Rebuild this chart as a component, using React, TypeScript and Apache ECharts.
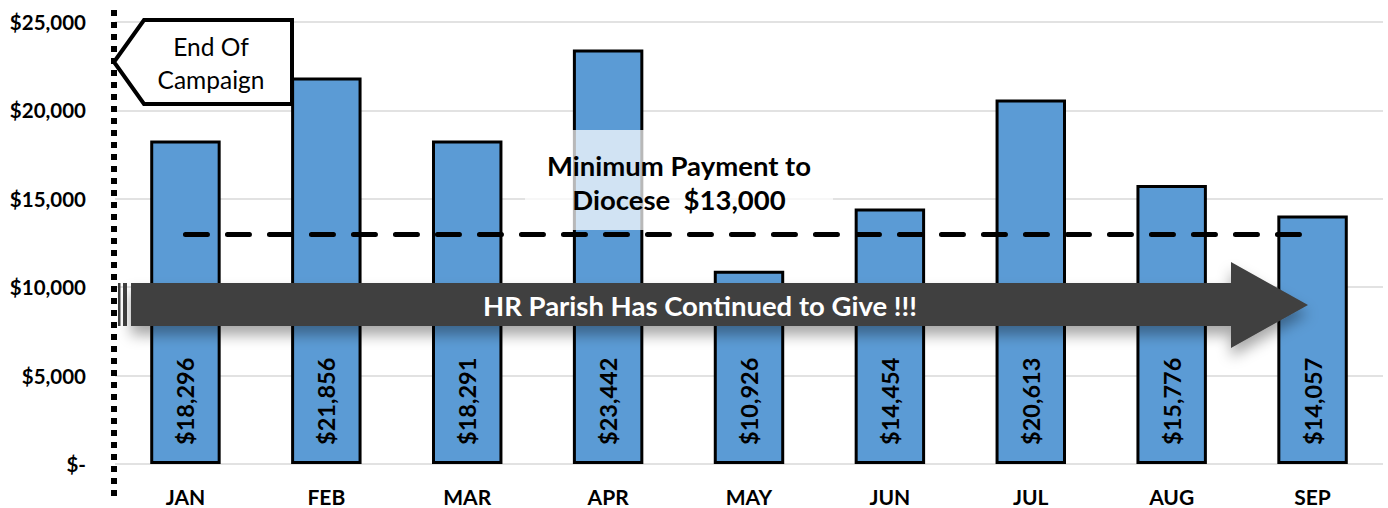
import React, { useEffect, useRef } from "react";
import * as echarts from "echarts";

const months = ["JAN", "FEB", "MAR", "APR", "MAY", "JUN", "JUL", "AUG", "SEP"];
const giving = [18296, 21856, 18291, 23442, 10926, 14454, 20613, 15776, 14057];
const minimumPayment = 13000;
const yTicks = { min: 0, max: 25000, interval: 5000 };
const minimumText = "Minimum Payment to\nDiocese  $13,000";
const arrowText = "HR Parish Has Continued to Give !!!";
const calloutText = "End Of\nCampaign";

const FONT = "Lato, 'Noto Sans', sans-serif";

function money(v: number): string {
  if (v === 0) return "$-";
  return "$" + v.toLocaleString("en-US");
}

export default function App() {
  const ref = useRef<HTMLDivElement>(null);
  useEffect(() => {
    document.body.style.margin = "0";
    const chart = echarts.init(ref.current!, null, { renderer: "svg" });
    chart.setOption({
      animation: false,
      backgroundColor: "#ffffff",
      grid: { left: 115, right: 5, top: 22, bottom: 44, containLabel: false },
      xAxis: {
        type: "category",
        data: months,
        axisLine: { show: false },
        axisTick: { show: false },
        axisLabel: {
          margin: 22,
          fontFamily: FONT,
          fontWeight: "bold",
          fontSize: 21,
          color: "#000",
        },
      },
      yAxis: {
        type: "value",
        min: yTicks.min,
        max: yTicks.max,
        interval: yTicks.interval,
        axisLine: { show: false },
        axisTick: { show: false },
        splitLine: { lineStyle: { color: "#D9D9D9", width: 1.5 } },
        axisLabel: {
          margin: 29,
          formatter: (v: number) => money(v),
          fontFamily: FONT,
          fontWeight: "bold",
          fontSize: 20.5,
          color: "#000",
        },
      },
      series: [
        {
          type: "bar",
          data: giving,
          barWidth: "50%",
          itemStyle: { color: "#5B9BD5", borderColor: "#000", borderWidth: 3 },
          label: {
            show: true,
            position: "insideBottom",
            rotate: 90,
            align: "left",
            verticalAlign: "middle",
            distance: 19,
            formatter: (p: any) => money(p.value),
            fontFamily: FONT,
            fontWeight: "bold",
            fontSize: 23.5,
            color: "#000",
          },
          markLine: {
            silent: true,
            symbol: "none",
            z: 5,
            label: { show: false },
            lineStyle: { color: "#000", width: 5, type: [22, 20], cap: "round" },
            data: [
              [
                { coord: [months[0], minimumPayment] },
                { coord: [months[months.length - 1], minimumPayment] },
              ],
            ],
          },
        },
      ],
      graphic: [
        {
          type: "line",
          z: 100,
          shape: { x1: 114, y1: 10, x2: 114, y2: 502 },
          style: { stroke: "#000", lineWidth: 6, lineDash: [6, 6] },
        },
        {
          type: "polygon",
          z: 101,
          shape: {
            points: [
              [114, 62],
              [144, 20],
              [292, 20],
              [292, 104],
              [144, 104],
            ],
          },
          style: { fill: "#fff", stroke: "#000", lineWidth: 4, lineJoin: "miter" },
        },
        {
          type: "text",
          z: 102,
          x: 211,
          y: 63,
          style: {
            text: calloutText,
            fontFamily: FONT,
            fontSize: 24.5,
            lineHeight: 33,
            fill: "#000",
            align: "center",
            verticalAlign: "middle",
          },
        },
        {
          type: "rect",
          z: 100,
          shape: { x: 525, y: 130, width: 308, height: 100 },
          style: { fill: "rgba(255,255,255,0.72)" },
        },
        {
          type: "text",
          z: 101,
          x: 679,
          y: 182,
          style: {
            text: minimumText,
            fontFamily: FONT,
            fontWeight: "bold",
            fontSize: 27.5,
            lineHeight: 34,
            fill: "#000",
            align: "center",
            verticalAlign: "middle",
          },
        },
        {
          type: "rect",
          z: 100,
          shape: { x: 118, y: 283, width: 2.5, height: 43 },
          style: { fill: "#404040" },
        },
        {
          type: "rect",
          z: 100,
          shape: { x: 123, y: 283, width: 4, height: 43 },
          style: { fill: "#404040" },
        },
        {
          type: "polygon",
          z: 100,
          shape: {
            points: [
              [131, 283],
              [1231, 283],
              [1231, 262],
              [1308, 305],
              [1231, 348],
              [1231, 326],
              [131, 326],
            ],
          },
          style: {
            fill: "#404040",
            shadowBlur: 14,
            shadowOffsetY: 9,
            shadowColor: "rgba(0,0,0,0.35)",
          },
        },
        {
          type: "text",
          z: 101,
          x: 700,
          y: 305,
          style: {
            text: arrowText,
            fontFamily: FONT,
            fontWeight: "bold",
            fontSize: 27.5,
            fill: "#fff",
            align: "center",
            verticalAlign: "middle",
          },
        },
      ],
    });
    return () => chart.dispose();
  }, []);
  return (
    <div
      ref={ref}
      style={{ position: "absolute", left: 0, top: 0, width: 1388, height: 508 }}
    />
  );
}
